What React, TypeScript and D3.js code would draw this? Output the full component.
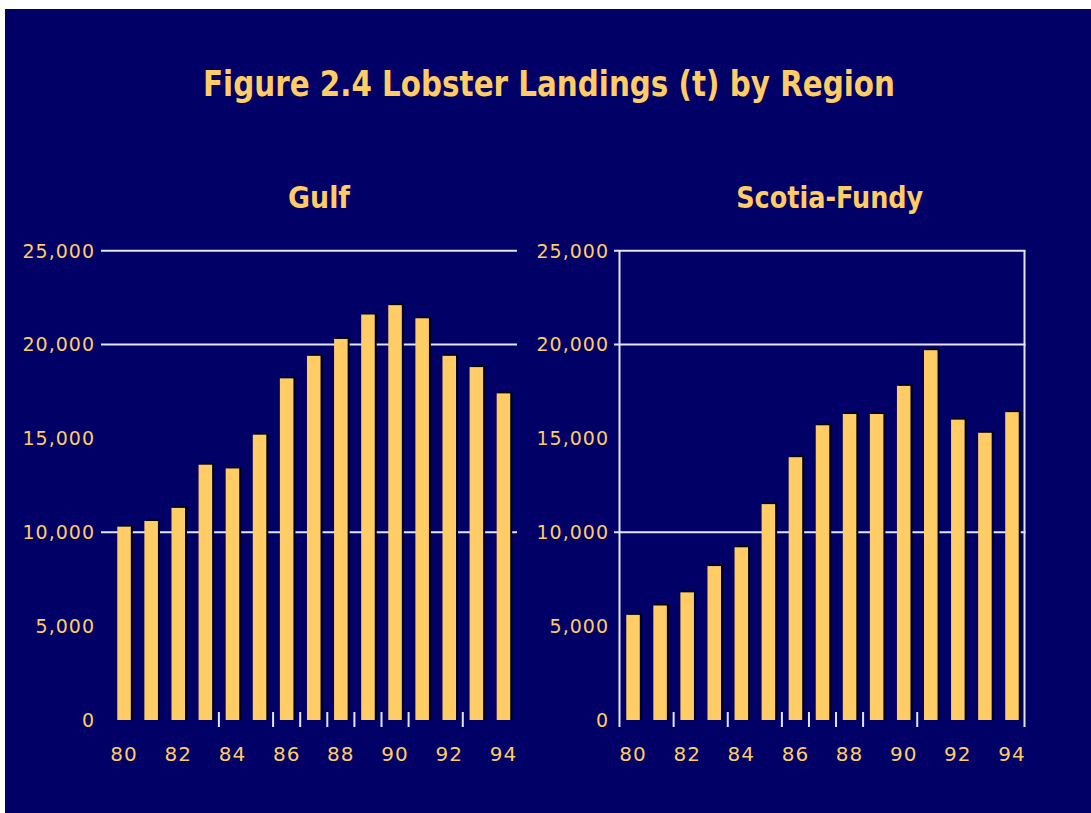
import React from "react";
import * as d3 from "d3";

const years = ["80","81","82","83","84","85","86","87","88","89","90","91","92","93","94"];
const xLabelYears = ["80","82","84","86","88","90","92","94"];
const gulfValues = [10300,10600,11300,13600,13400,15200,18200,19400,20300,21600,22100,21400,19400,18800,17400];
const scotiaValues = [5600,6100,6800,8200,9200,11500,14000,15700,16300,16300,17800,19700,16000,15300,16400];
const yTickValues = [0,5000,10000,15000,20000,25000];
const gridValues = [10000,20000,25000];
const gulfTickBounds = [4,6,7,8,9,10,11,13];
const scotiaTickBounds = [2,4,6,7,8,9,11];
const panelTitles = ["Gulf","Scotia-Fundy"];
const mainTitle = "Figure 2.4 Lobster Landings (t) by Region";

const NAVY = "#000066";
const GOLD = "#ffcc66";
const GRID = "#e4e4fa";
const condensed = "'DejaVu Sans Condensed','Liberation Sans Narrow','DejaVu Sans',sans-serif";
const labelFont = "'DejaVu Sans',Verdana,sans-serif";

const yScale = d3.scaleLinear().domain([0, 25000]).range([720, 250.7]);
const fmt = d3.format(",");

type PanelProps = {
  title: string;
  titleWidth: number;
  values: number[];
  bandRange: [number, number];
  gridX0: number;
  labelX: number;
  boxed: boolean;
  tickBounds: number[];
};

function Panel({ title, titleWidth, values, bandRange, gridX0, labelX, boxed, tickBounds }: PanelProps) {
  const x = d3.scaleBand<string>().domain(years).range(bandRange).padding(0);
  const step = x.step();
  const bw = step * 0.5;
  const [x0, x1] = bandRange;
  const titleX = (gridX0 + x1) / 2 + 10;
  return (
    <g>
      <text x={titleX} y={208} textAnchor="middle" fill={GOLD} fontFamily={condensed} fontWeight="bold" fontSize={30}
        textLength={titleWidth} lengthAdjust="spacingAndGlyphs">{title}</text>
      {gridValues.map(v => (
        <line key={v} x1={gridX0} x2={x1} y1={yScale(v)} y2={yScale(v)} stroke={GRID} strokeWidth={2} />
      ))}
      {boxed && (
        <g>
          <line x1={x0} x2={x0} y1={yScale(25000)} y2={727} stroke={GRID} strokeWidth={2} />
          <line x1={x1 - 1} x2={x1 - 1} y1={yScale(25000)} y2={727} stroke={GRID} strokeWidth={2} />
        </g>
      )}
      {tickBounds.map(k => (
        <line key={k} x1={x0 + k * step} x2={x0 + k * step} y1={712} y2={727} stroke={GRID} strokeWidth={2} />
      ))}
      {values.map((v, i) => {
        const bx = (x(years[i]) as number) + (step - bw) / 2;
        const by = yScale(v);
        const h = yScale(0) - by;
        return (
          <g key={i}>
            <rect x={bx + 2} y={by - 1.5} width={bw} height={h + 1.5} fill="#000" />
            <rect x={bx} y={by} width={bw} height={h} fill={GOLD} />
          </g>
        );
      })}
      {yTickValues.map(v => (
        <text key={v} x={labelX} y={yScale(v)} dy="0.36em" textAnchor="end" fill={GOLD}
          fontFamily={labelFont} fontSize={19} letterSpacing={1}>{fmt(v)}</text>
      ))}
      {xLabelYears.map(yr => (
        <text key={yr} x={(x(yr) as number) + step / 2} y={761} textAnchor="middle" fill={GOLD}
          fontFamily={labelFont} fontSize={20} letterSpacing={1}>{yr}</text>
      ))}
    </g>
  );
}

export default function App() {
  return (
    <svg width={1091} height={813} style={{ position: "absolute", left: 0, top: 0 }}>
      <rect x={0} y={0} width={1091} height={813} fill="#ffffff" />
      <rect x={5} y={9} width={1086} height={804} fill={NAVY} />
      <text x={549} y={96} textAnchor="middle" fill={GOLD} fontFamily={condensed} fontWeight="bold" fontSize={36}
        textLength={692} lengthAdjust="spacingAndGlyphs">{mainTitle}</text>
      <Panel title={panelTitles[0]} titleWidth={62} values={gulfValues} bandRange={[110.5, 517]} gridX0={101}
        labelX={95} boxed={false} tickBounds={gulfTickBounds} />
      <Panel title={panelTitles[1]} titleWidth={187} values={scotiaValues} bandRange={[619.5, 1025.5]} gridX0={614}
        labelX={609} boxed={true} tickBounds={scotiaTickBounds} />
    </svg>
  );
}
